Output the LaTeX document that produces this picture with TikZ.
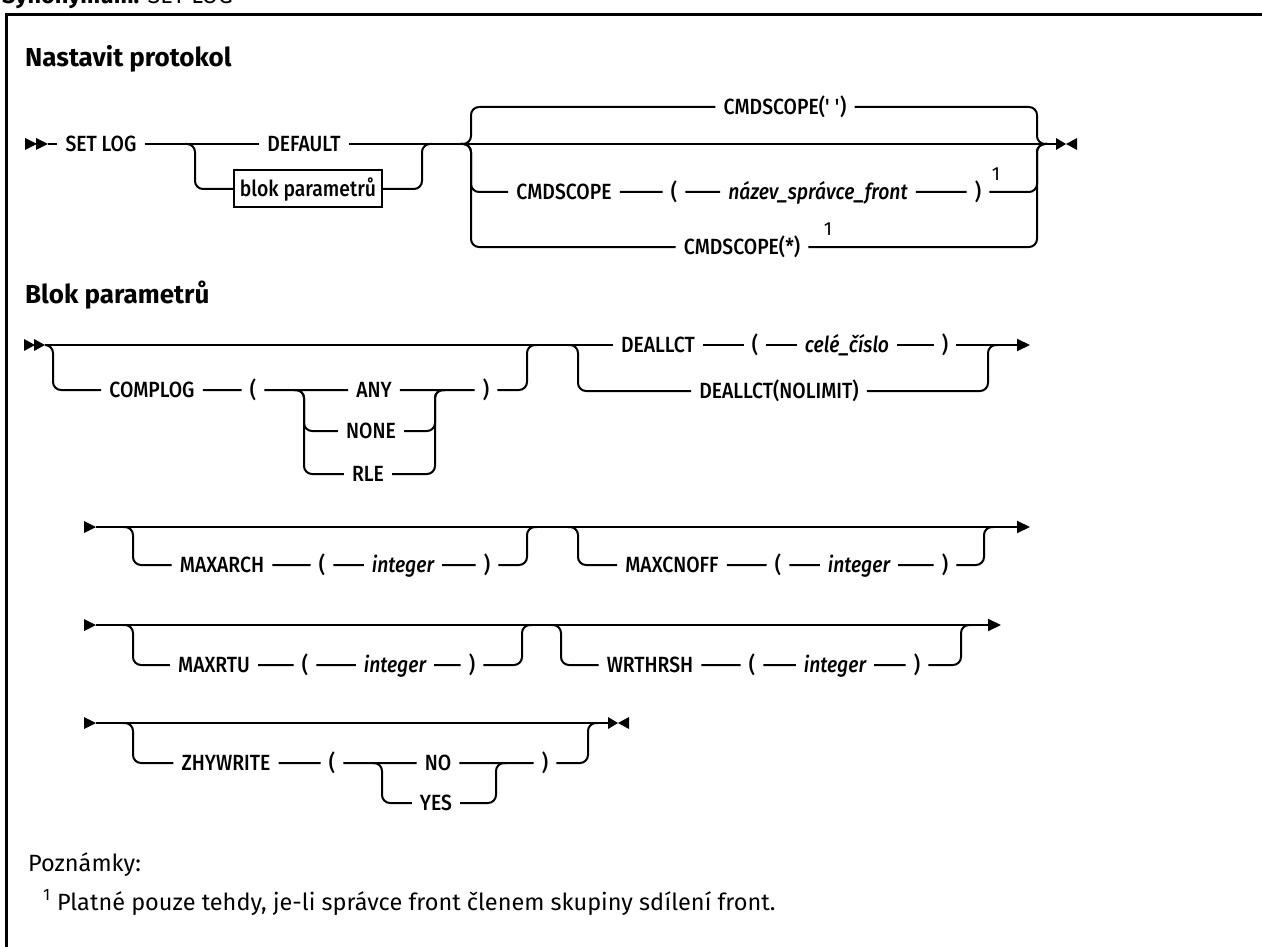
\documentclass[tikz,border=0pt]{standalone}
\usepackage{fontspec}
\setmainfont{Fira Sans}
\newfontfamily\railfont{Fira Sans}[UprightFont={* Medium}, ItalicFont={* Medium Italic}, FakeStretch=0.88]
\usetikzlibrary{arrows.meta}
\tikzset{
  rail/.style={line width=2pt, draw=black, rounded corners=8pt},
  railend/.style={rail, -{Triangle[length=13pt,width=12pt]}},
  kw/.style={font=\railfont\fontsize{22}{26}\selectfont, inner xsep=8pt, inner ysep=0pt,
    text height=15pt, text depth=0pt},
  var/.style={kw, font=\railfont\fontsize{22}{26}\selectfont\itshape},
  refbox/.style={kw, draw, line width=2pt, inner xsep=6pt, minimum height=37pt},
  fnmark/.style={font=\fontsize{19}{19}\selectfont, inner sep=0pt},
  heading/.style={font=\fontsize{26}{30}\selectfont\bfseries, anchor=base west, inner sep=0pt},
  notetext/.style={font=\fontsize{23.5}{28}\selectfont, anchor=base west, inner sep=0pt}
}
\begin{document}
\begin{tikzpicture}[x=1pt,y=-1pt]
  \useasboundingbox (0,0) rectangle (1262,947);
  % frame and titles
  \node[notetext] (syn) at (2,4) {\textbf{Synonymum:} SET LOG};
  \draw[line width=3pt] (1270,15) -- (6,15) -- (6,955);
  \node[heading] (title) at (25,67) {Nastavit protokol};
  \node[heading] (block) at (25,303) {Blok parametrů};

  % ---- SET LOG ----
  \fill (25,138) -- (37,144) -- (25,150) -- cycle;
  \fill (36,138) -- (48,144) -- (36,150) -- cycle;
  \coordinate (startA) at (48,144);
  \node[kw] (setlog) at (101,144) {SET LOG};
  \node[kw] (default) at (304,144) {DEFAULT};
  \node[refbox] (blok) at (308,189) {blok parametrů};
  \coordinate (jA1) at (195,144);
  \coordinate (jA2) at (422,144);
  \coordinate (jA3) at (471,144);
  \coordinate (jA4) at (1037,144);
  \coordinate (endA) at (1056,144);
  \node[kw] (cmdq) at (785,107) {CMDSCOPE(\textquotesingle\ \textquotesingle)};
  \node[kw] (cmd) at (564,192) {CMDSCOPE};
  \node[kw] (lpA) at (674,192) {(};
  \node[var] (qmgr) at (818,192) {název\_správce\_front};
  \node[kw] (rpA) at (978,192) {)};
  \node[fnmark] (fnA1) at (996,174) {1};
  \node[kw] (cmdall) at (742,247) {CMDSCOPE(*)};
  \node[fnmark] (fnA2) at (828,229) {1};
  \draw[rail] (startA) -- (setlog) -- (default) -- (endA);
  \draw[rail] ([xshift=-10pt]jA1) -- (jA1) -- (jA1 |- blok) -- (blok) -- (jA2 |- blok) -- (jA2) -- ([xshift=10pt]jA2);
  \draw[rail] ([xshift=-10pt]jA3) -- (jA3) -- (jA3 |- cmdq) -- (cmdq) -- (jA4 |- cmdq) -- (jA4) -- ([xshift=10pt]jA4);
  \draw[rail] ([xshift=-10pt]jA3) -- (jA3) -- (jA3 |- cmd) -- (cmd) -- (lpA) -- (qmgr) -- (rpA) -- (jA4 |- rpA) -- (jA4) -- ([xshift=10pt]jA4);
  \draw[rail] ([xshift=-10pt]jA3) -- (jA3) -- (jA3 |- cmdall) -- (cmdall) -- (jA4 |- cmdall) -- (jA4) -- ([xshift=10pt]jA4);
  \fill (1056,138) -- (1066,144) -- (1056,150) -- cycle;
  \fill (1077,138) -- (1066,144) -- (1077,150) -- cycle;

  % ---- COMPLOG / DEALLCT ----
  \fill (24,339) -- (35,345) -- (24,351) -- cycle;
  \fill (34,339) -- (45,345) -- (34,351) -- cycle;
  \coordinate (startB) at (45,345);
  \coordinate (jB1) at (53,345);
  \coordinate (jB2) at (304,390);
  \coordinate (jB3) at (435,390);
  \coordinate (jB4) at (527,345);
  \coordinate (jB5) at (578,345);
  \coordinate (jB6) at (988,345);
  \coordinate (endB) at (1030,345);
  \node[kw] (complog) at (152,390) {COMPLOG};
  \node[kw] (lpB) at (253,390) {(};
  \node[kw] (any) at (374,390) {ANY};
  \node[kw] (none) at (371,431) {NONE};
  \node[kw] (rle) at (368,474) {RLE};
  \node[kw] (rpB) at (486,390) {)};
  \node[kw] (dealloc) at (658,345) {DEALLCT};
  \node[kw] (lpB2) at (755,345) {(};
  \node[var] (celecislo) at (847,345) {celé\_číslo};
  \node[kw] (rpB2) at (945,345) {)};
  \node[kw] (nolimit) at (779,391) {DEALLCT(NOLIMIT)};
  \draw[railend] (startB) -- (dealloc) -- (lpB2) -- (celecislo) -- (rpB2) -- (endB);
  \draw[rail] ([xshift=-8pt]jB1) -- (jB1) -- (jB1 |- complog) -- (complog) -- (lpB) -- (any) -- (rpB) -- (jB4 |- rpB) -- (jB4) -- ([xshift=10pt]jB4);
  \draw[rail] ([xshift=-10pt]jB2) -- (jB2) -- (jB2 |- none) -- (none) -- (jB3 |- none) -- (jB3) -- ([xshift=10pt]jB3);
  \draw[rail] ([xshift=-10pt]jB2) -- (jB2) -- (jB2 |- rle) -- (rle) -- (jB3 |- rle) -- (jB3) -- ([xshift=10pt]jB3);
  \draw[rail] ([xshift=-10pt]jB5) -- (jB5) -- (jB5 |- nolimit) -- (nolimit) -- (jB6 |- nolimit) -- (jB6) -- ([xshift=10pt]jB6);

  % ---- MAXARCH / MAXCNOFF ----
  \fill (84,521) -- (96,527) -- (84,533) -- cycle;
  \coordinate (startC) at (96,527);
  \coordinate (jC1) at (133,527);
  \coordinate (jC2) at (527,527);
  \coordinate (jC3) at (578,527);
  \coordinate (jC4) at (984,527);
  \coordinate (endC) at (1030,527);
  \node[kw] (maxarch) at (222,565) {MAXARCH};
  \node[kw] (lpC) at (322,565) {(};
  \node[var] (intC) at (403,565) {integer};
  \node[kw] (rpC) at (487,565) {)};
  \node[kw] (maxcnoff) at (672,565) {MAXCNOFF};
  \node[kw] (lpC2) at (778,565) {(};
  \node[var] (intC2) at (859,565) {integer};
  \node[kw] (rpC2) at (945,565) {)};
  \draw[railend] (startC) -- (endC);
  \draw[rail] ([xshift=-10pt]jC1) -- (jC1) -- (jC1 |- maxarch) -- (maxarch) -- (lpC) -- (intC) -- (rpC) -- (jC2 |- rpC) -- (jC2) -- ([xshift=10pt]jC2);
  \draw[rail] ([xshift=-10pt]jC3) -- (jC3) -- (jC3 |- maxcnoff) -- (maxcnoff) -- (lpC2) -- (intC2) -- (rpC2) -- (jC4 |- rpC2) -- (jC4) -- ([xshift=10pt]jC4);

  % ---- MAXRTU / WRTHRSH ----
  \fill (84,619) -- (96,625) -- (84,631) -- cycle;
  \coordinate (startD) at (96,625);
  \coordinate (jD1) at (133,625);
  \coordinate (jD2) at (522,625);
  \coordinate (jD3) at (561,625);
  \coordinate (jD4) at (961,625);
  \coordinate (endD) at (1001,625);
  \node[kw] (maxrtu) at (214,665) {MAXRTU};
  \node[kw] (lpD) at (305,665) {(};
  \node[var] (intD) at (395,665) {integer};
  \node[kw] (rpD) at (472,665) {)};
  \node[kw] (wrthrsh) at (650,665) {WRTHRSH};
  \node[kw] (lpD2) at (752,665) {(};
  \node[var] (intD2) at (835,665) {integer};
  \node[kw] (rpD2) at (917,665) {)};
  \draw[railend] (startD) -- (endD);
  \draw[rail] ([xshift=-10pt]jD1) -- (jD1) -- (jD1 |- maxrtu) -- (maxrtu) -- (lpD) -- (intD) -- (rpD) -- (jD2 |- rpD) -- (jD2) -- ([xshift=10pt]jD2);
  \draw[rail] ([xshift=-10pt]jD3) -- (jD3) -- (jD3 |- wrthrsh) -- (wrthrsh) -- (lpD2) -- (intD2) -- (rpD2) -- (jD4 |- rpD2) -- (jD4) -- ([xshift=10pt]jD4);

  % ---- ZHYWRITE ----
  \fill (84,717) -- (96,723) -- (84,729) -- cycle;
  \coordinate (startE) at (96,723);
  \coordinate (jE1) at (133,723);
  \coordinate (jE2) at (382,763);
  \coordinate (jE3) at (496,763);
  \coordinate (jE4) at (588,723);
  \coordinate (endE) at (608,723);
  \node[kw] (zhy) at (226,763) {ZHYWRITE};
  \node[kw] (lpE) at (332,763) {(};
  \node[kw] (no) at (438,763) {NO};
  \node[kw] (yes) at (436,803) {YES};
  \node[kw] (rpE) at (545,763) {)};
  \draw[rail] (startE) -- (endE);
  \draw[rail] ([xshift=-10pt]jE1) -- (jE1) -- (jE1 |- zhy) -- (zhy) -- (lpE) -- (no) -- (rpE) -- (jE4 |- rpE) -- (jE4) -- ([xshift=10pt]jE4);
  \draw[rail] ([xshift=-10pt]jE2) -- (jE2) -- (jE2 |- yes) -- (yes) -- (jE3 |- yes) -- (jE3) -- ([xshift=10pt]jE3);
  \fill (608,717) -- (618,723) -- (608,729) -- cycle;
  \fill (629,717) -- (618,723) -- (629,729) -- cycle;

  % notes
  \node[notetext] (notes) at (28,871) {Poznámky:};
  \node[notetext] (note1) at (43,910) {\textsuperscript{1} Platné pouze tehdy, je-li správce front členem skupiny sdílení front.};
\end{tikzpicture}
\end{document}
